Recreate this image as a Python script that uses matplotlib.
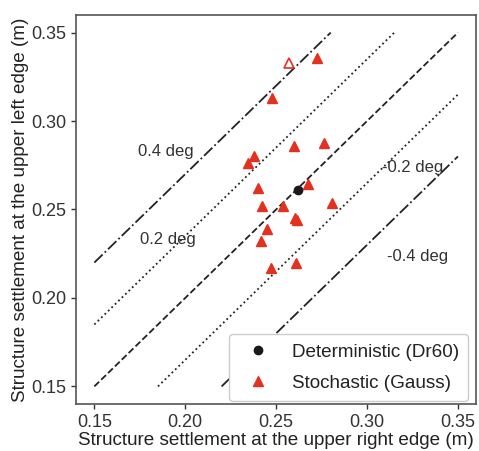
import numpy as np
import matplotlib.pyplot as plt

# ── Data ──────────────────────────────────────────────────────────────────────
det_right = [0.2620]
det_left = [0.2612]

sto_right = [0.2726, 0.2478, 0.2600, 0.2761, 0.2376, 0.2343, 0.2677, 0.2401,
             0.2423, 0.2538, 0.2808, 0.2602, 0.2615, 0.2448, 0.2416, 0.2470, 0.2609]
sto_left = [0.3358, 0.3133, 0.2860, 0.2875, 0.2800, 0.2762, 0.2646, 0.2622,
            0.2522, 0.2519, 0.2538, 0.2451, 0.2443, 0.2391, 0.2320, 0.2170, 0.2196]

open_right = [0.2569]
open_left = [0.3328]

# tilt reference lines: offset (m) between edges
offsets = [0.07, 0.035, 0.0, -0.035, -0.07]
styles = ["-.", ":", "--", ":", "-."]
line_labels = {0.07: "0.4 deg", 0.035: "0.2 deg", -0.035: "-0.2 deg", -0.07: "-0.4 deg"}
label_pos = {0.07: (0.174, 0.2826), 0.035: (0.175, 0.233),
             -0.035: (0.3085, 0.2736), -0.07: (0.311, 0.2236)}
lo, hi = 0.15, 0.35

plt.rcParams["font.family"] = ["Liberation Sans", "DejaVu Sans"]
fig, ax = plt.subplots(figsize=(4.79, 4.51), dpi=100)

for off, ls in zip(offsets, styles):
    x0 = max(lo, lo - off)
    x1 = min(hi, hi - off)
    xs = np.array([x0, x1])
    ax.plot(xs, xs + off, ls=ls, color="#222222", lw=1.3)
    if off in line_labels:
        tx, ty = label_pos[off]
        ax.text(tx, ty, line_labels[off], fontsize=12, color="#333333", va="center")

ax.plot(det_right, det_left, "o", color="#1a1a1a", ms=6, label="Deterministic (Dr60)", zorder=4)
ax.plot(sto_right, sto_left, "^", color="#e2321f", ms=6.5, ls="none", label="Stochastic (Gauss)", zorder=3)
ax.plot(open_right, open_left, "^", mfc="white", mec="#e2321f", mew=1.2, ms=6.5, ls="none", zorder=3)

ax.set_xlim(0.14, 0.36)
ax.set_ylim(0.14, 0.36)
ax.set_xticks([0.15, 0.20, 0.25, 0.30, 0.35])
ax.set_yticks([0.15, 0.20, 0.25, 0.30, 0.35])
ax.set_xlabel("Structure settlement at the upper right edge (m)", fontsize=13.6, color="#222222", labelpad=1)
ax.set_ylabel("Structure settlement at the upper left edge (m)", fontsize=13.6, color="#222222", labelpad=2)
ax.tick_params(labelsize=13, colors="#333333", length=3.5, width=1)
for sp in ax.spines.values():
    sp.set_color("#555555")
    sp.set_linewidth(1.2)

ax.legend(loc="lower right", bbox_to_anchor=(0.98, 0.008), fontsize=13.6, framealpha=1,
          edgecolor="#cccccc", handletextpad=0.8, borderpad=0.5, borderaxespad=0,
          labelspacing=0.7, labelcolor="#222222")

fig.subplots_adjust(left=0.159, right=0.994, top=0.967, bottom=0.104)
fig.savefig("out.png", dpi=100)
